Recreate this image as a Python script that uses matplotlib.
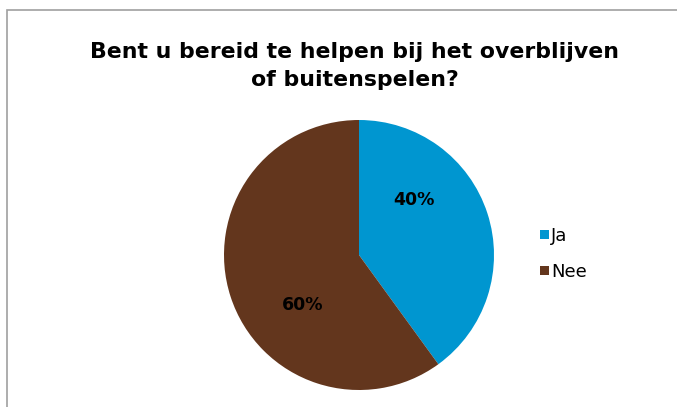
import matplotlib.pyplot as plt
from matplotlib.patches import Rectangle

labels = ["Ja", "Nee"]
values = [40, 60]
colors = ["#0096d0", "#63361d"]
title = "Bent u bereid te helpen bij het overblijven\nof buitenspelen?"

fig = plt.figure(figsize=(6.77, 4.07), dpi=100)

# chart area border
fig.patches.append(Rectangle((7 / 677, -0.1), 1.0, (407 - 10) / 407 + 0.1,
                             transform=fig.transFigure, fill=False,
                             edgecolor="#a0a0a0", linewidth=1.2))

fig.text(355 / 677, (407 - 66) / 407, title, ha="center", va="center",
         fontsize=15.8, fontweight="bold", linespacing=1.5)

ax = fig.add_axes([(359 - 135) / 677, (407 - 255 - 135) / 407, 270 / 677, 270 / 407])
wedges, _ = ax.pie(values, colors=colors, startangle=90, counterclock=False,
                   radius=1.0)
ax.set_xlim(-1, 1)
ax.set_ylim(-1, 1)
ax.set_aspect("auto")
ax.axis("off")

label_pos = [(0.41, 0.41), (-0.42, -0.37)]
for (x, y), v in zip(label_pos, values):
    ax.text(x, y, f"{v}%", ha="center", va="center", fontsize=12.5, fontweight="bold")

fig.legend(wedges, labels, loc="center left", bbox_to_anchor=(540 / 677, (407 - 254) / 407),
           frameon=False, fontsize=13, handlelength=0.5, handleheight=0.35,
           handletextpad=0.12, labelspacing=1.0, borderaxespad=0, borderpad=0)

fig.savefig("out.png", dpi=100)
